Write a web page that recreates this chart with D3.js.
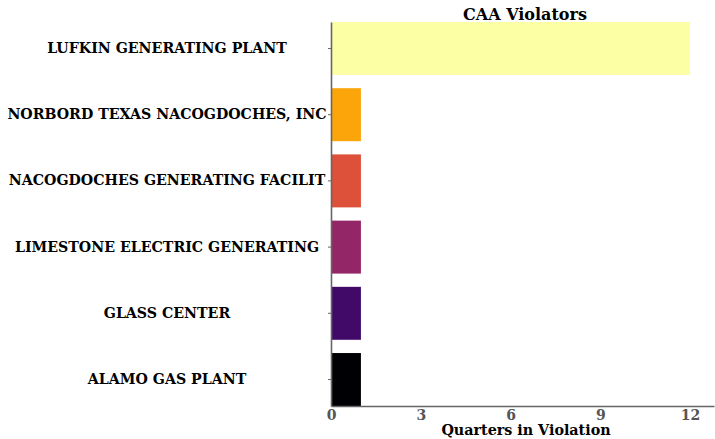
<!DOCTYPE html>
<html>
<head>
<meta charset="utf-8">
<script src="https://cdn.jsdelivr.net/npm/d3@7"></script>
<style>
  body { margin: 0; background: #fff; }
  text { font-family: "DejaVu Serif", serif; font-weight: bold; }
</style>
</head>
<body>
<div id="chart"></div>
<script>
// facilities, top to bottom
const facilities = [
  'LUFKIN GENERATING PLANT',
  'NORBORD TEXAS NACOGDOCHES, INC',
  'NACOGDOCHES GENERATING FACILIT',
  'LIMESTONE ELECTRIC GENERATING',
  'GLASS CENTER',
  'ALAMO GAS PLANT'
];
const quarters = [12, 1, 1, 1, 1, 1];
const xTicks = [0, 3, 6, 9, 12];
const barColors = ['#fcffa4', '#fca50a', '#dd513a', '#932667', '#420a68', '#000004'];

const W = 715, H = 439;
const m = { left: 331, right: 1, top: 22, bottom: 33 };

const svg = d3.select('#chart').append('svg')
  .attr('width', W).attr('height', H);

const x = d3.scaleLinear().domain([0, 12.8]).range([m.left, W - m.right]);
const y = d3.scaleBand().domain(facilities)
  .range([m.top, H - m.bottom]).paddingInner(0.2).paddingOuter(0);

// bars
svg.selectAll('rect.bar')
  .data(facilities)
  .enter().append('rect')
  .attr('class', 'bar')
  .attr('x', x(0))
  .attr('y', d => y(d))
  .attr('width', (d, i) => x(quarters[i]) - x(0))
  .attr('height', y.bandwidth())
  .attr('fill', (d, i) => barColors[i]);

// y axis
const ya = svg.append('g')
  .attr('transform', `translate(${m.left},0)`)
  .call(d3.axisLeft(y).tickSize(3).tickSizeOuter(0));
ya.select('.domain').attr('stroke', '#666').attr('stroke-width', 1.6);
ya.selectAll('.tick line').attr('stroke', '#666');
ya.selectAll('.tick text')
  .attr('x', 167 - m.left)
  .attr('text-anchor', 'middle')
  .attr('font-size', 14.2)
  .attr('fill', '#000');

// x axis
const xa = svg.append('g')
  .attr('transform', `translate(0,${H - m.bottom})`)
  .call(d3.axisBottom(x).tickValues(xTicks).tickSize(0).tickSizeOuter(0));
xa.select('.domain').attr('stroke', '#666').attr('stroke-width', 1.6);
xa.selectAll('.tick text')
  .attr('dy', '0.71em').attr('y', 4)
  .attr('font-size', 14)
  .attr('fill', '#555');

svg.append('text')
  .attr('x', 526).attr('y', 435)
  .attr('text-anchor', 'middle')
  .attr('font-size', 14.3)
  .text('Quarters in Violation');

svg.append('text')
  .attr('x', 525).attr('y', 20)
  .attr('text-anchor', 'middle')
  .attr('font-size', 16)
  .text('CAA Violators');
</script>
</body>
</html>
